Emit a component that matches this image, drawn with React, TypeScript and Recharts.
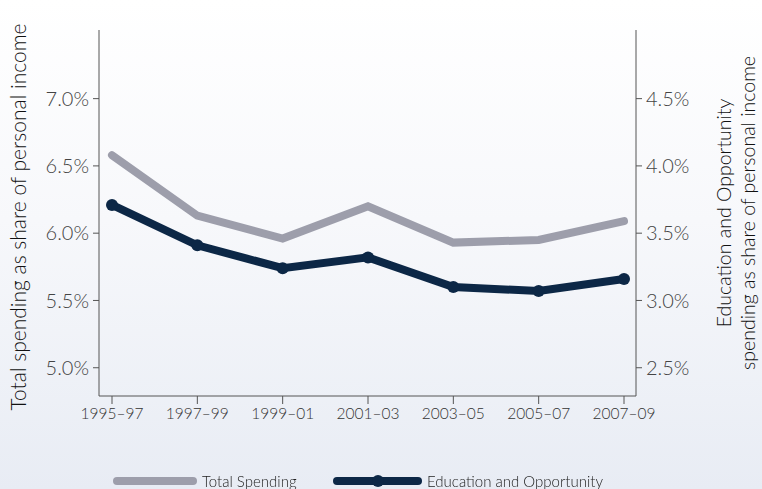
import React from "react";
import { LineChart, Line, XAxis, YAxis, Legend } from "recharts";

const periods = ["1995–97", "1997–99", "1999–01", "2001–03", "2003–05", "2005–07", "2007–09"];
const totalSpending = [6.58, 6.13, 5.96, 6.2, 5.93, 5.95, 6.09];
const educationOpportunity = [3.71, 3.41, 3.24, 3.32, 3.1, 3.07, 3.16];
const leftTicks = [5.0, 5.5, 6.0, 6.5, 7.0];
const rightTicks = [2.5, 3.0, 3.5, 4.0, 4.5];

const GRAY = "#9d9eab";
const NAVY = "#0c2746";
const AXIS = "#555";
const FONT = "Lato, 'Open Sans', sans-serif";

const data = periods.map((p, i) => ({
  period: p,
  total: totalSpending[i],
  edu: educationOpportunity[i],
}));

const pct = (v: number) => `${v.toFixed(1)}%`;

function LeftTitle() {
  const cx = 26;
  const cy = 217;
  return (
    <text
      x={cx}
      y={cy}
      transform={`rotate(-90, ${cx}, ${cy})`}
      textAnchor="middle"
      fontSize={21}
      fontWeight={300}
      fill="#111"
      fontFamily={FONT}
    >
      Total spending as share of personal income
    </text>
  );
}

function RightTitle() {
  const cx = 731;
  const cy = 213;
  return (
    <text
      x={cx}
      y={cy}
      transform={`rotate(-90, ${cx}, ${cy})`}
      textAnchor="middle"
      fontSize={19.5}
      fontWeight={300}
      fill="#111"
      fontFamily={FONT}
    >
      <tspan x={cx} dy={0}>Education and Opportunity</tspan>
      <tspan x={cx} dy={24}>spending as share of personal income</tspan>
    </text>
  );
}

function LegendContent() {
  return (
    <div style={{ position: "relative", height: 20, fontFamily: FONT, fontWeight: 300, fontSize: 15, color: "#222" }}>
      <svg width={90} height={20} style={{ position: "absolute", left: 112, top: 0 }}>
        <line x1={5} y1={10} x2={81} y2={10} stroke={GRAY} strokeWidth={8} strokeLinecap="round" />
      </svg>
      <span style={{ position: "absolute", left: 202, top: 1 }}>Total Spending</span>
      <svg width={92} height={20} style={{ position: "absolute", left: 332, top: 0 }}>
        <line x1={5} y1={10} x2={86} y2={10} stroke={NAVY} strokeWidth={8} strokeLinecap="round" />
        <circle cx={46} cy={10} r={6} fill={NAVY} />
      </svg>
      <span style={{ position: "absolute", left: 427, top: 1 }}>Education and Opportunity</span>
    </div>
  );
}

export default function App() {
  return (
    <div
      style={{
        position: "fixed",
        left: 0,
        top: 0,
        width: 762,
        height: 489,
        background: "linear-gradient(to bottom, #ffffff 0%, #f7f8fb 45%, #e8ecf4 100%)",
      }}
    >
      <LineChart
        width={762}
        height={489}
        data={data}
        margin={{ top: 30, right: 0, bottom: 40, left: 0 }}
      >
        <XAxis
          dataKey="period"
          padding={{ left: 13, right: 12 }}
          stroke={AXIS}
          tickSize={8}
          tickMargin={4}
          tick={{ fontSize: 15.5, fontWeight: 300, fill: "#333", fontFamily: FONT }}
          height={33}
          interval={0}
        />
        <YAxis
          yAxisId="left"
          width={99}
          domain={[4.79, 7.51]}
          allowDataOverflow
          ticks={leftTicks}
          tickFormatter={pct}
          stroke={AXIS}
          tickSize={6}
          tickMargin={4}
          tick={{ fontSize: 20, fontWeight: 300, fill: "#444", fontFamily: FONT }}
          label={<LeftTitle />}
        />
        <YAxis
          yAxisId="right"
          orientation="right"
          width={126}
          domain={[2.29, 5.01]}
          allowDataOverflow
          ticks={rightTicks}
          tickFormatter={pct}
          stroke={AXIS}
          tickSize={6}
          tickMargin={4}
          tick={{ fontSize: 20, fontWeight: 300, fill: "#444", fontFamily: FONT }}
          label={<RightTitle />}
        />
        <Legend
          verticalAlign="bottom"
          align="left"
          content={<LegendContent />}
          wrapperStyle={{ left: 0, top: 471, width: 762, height: 20 }}
        />
        <Line
          yAxisId="left"
          dataKey="total"
          name="Total Spending"
          stroke={GRAY}
          strokeWidth={8}
          strokeLinecap="round"
          strokeLinejoin="miter"
          dot={false}
          isAnimationActive={false}
        />
        <Line
          yAxisId="right"
          dataKey="edu"
          name="Education and Opportunity"
          stroke={NAVY}
          strokeWidth={8}
          strokeLinejoin="miter"
          dot={{ r: 6, fill: NAVY, stroke: NAVY, strokeWidth: 0 }}
          isAnimationActive={false}
        />
      </LineChart>
    </div>
  );
}
